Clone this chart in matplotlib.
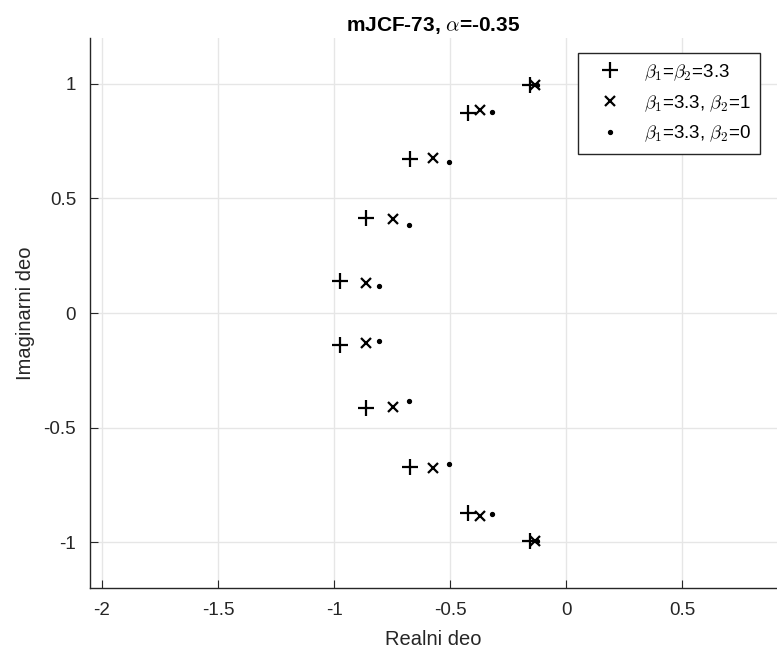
import matplotlib.pyplot as plt
import numpy as np

plt.rcParams['font.family'] = ['Liberation Sans', 'DejaVu Sans']
plt.rcParams['mathtext.fontset'] = 'cm'

# gornja polovina polova, donja je konjugovana
re_a = [-0.155, -0.424, -0.671, -0.863, -0.974]
im_a = [0.993, 0.874, 0.673, 0.413, 0.141]
re_b = [-0.134, -0.369, -0.575, -0.746, -0.863]
im_b = [0.993, 0.884, 0.677, 0.410, 0.132]
re_c = [-0.126, -0.319, -0.504, -0.678, -0.806]
im_c = [0.993, 0.877, 0.661, 0.385, 0.120]

def konj(re, im):
    return np.array(re + re[::-1]), np.array(im + [-v for v in im[::-1]])

xa, ya = konj(re_a, im_a)
xb, yb = konj(re_b, im_b)
xc, yc = konj(re_c, im_c)

fig = plt.figure(figsize=(7.77, 6.6), dpi=100)
ax = fig.add_axes([0.1158, 0.1091, 0.8842, 0.8333])

ax.plot(xa, ya, '+', color='k', ms=11, mew=1.6, label=r'$\beta_1$=$\beta_2$=3.3')
ax.plot(xb, yb, 'x', color='k', ms=7.5, mew=1.6, label=r'$\beta_1$=3.3, $\beta_2$=1')
ax.plot(xc, yc, 'o', color='k', ms=2.8, label=r'$\beta_1$=3.3, $\beta_2$=0')

ax.set_xlim(-2.052, 0.909)
ax.set_ylim(-1.2, 1.2)
ax.set_xticks([-2, -1.5, -1, -0.5, 0, 0.5])
ax.set_xticklabels(['-2', '-1.5', '-1', '-0.5', '0', '0.5'])
ax.set_yticks([-1, -0.5, 0, 0.5, 1])
ax.set_yticklabels(['-1', '-0.5', '0', '0.5', '1'])
ax.grid(True, color='#e6e6e6', lw=1)
ax.set_axisbelow(True)
ax.tick_params(direction='in', length=6, colors='#262626', labelsize=13.5, pad=10)
for s in ['top', 'right']:
    ax.spines[s].set_visible(False)
for s in ['left', 'bottom']:
    ax.spines[s].set_color('#262626')
    ax.spines[s].set_linewidth(1)

ax.set_xlabel('Realni deo', fontsize=14.5, color='#262626', labelpad=8)
ax.set_ylabel('Imaginarni deo', fontsize=14.5, color='#262626', labelpad=6)
ax.set_title(r'mJCF-73, $\alpha$=-0.35', fontsize=15, fontweight='bold', pad=5)

leg = ax.legend(loc='upper right', bbox_to_anchor=(0.975, 0.973), fontsize=13.5,
                fancybox=False, framealpha=1, edgecolor='#262626',
                borderaxespad=0, handlelength=2.4, handletextpad=0.6,
                borderpad=0.5, labelspacing=0.55)
leg.get_frame().set_linewidth(1)

fig.savefig('out.png', dpi=100)
